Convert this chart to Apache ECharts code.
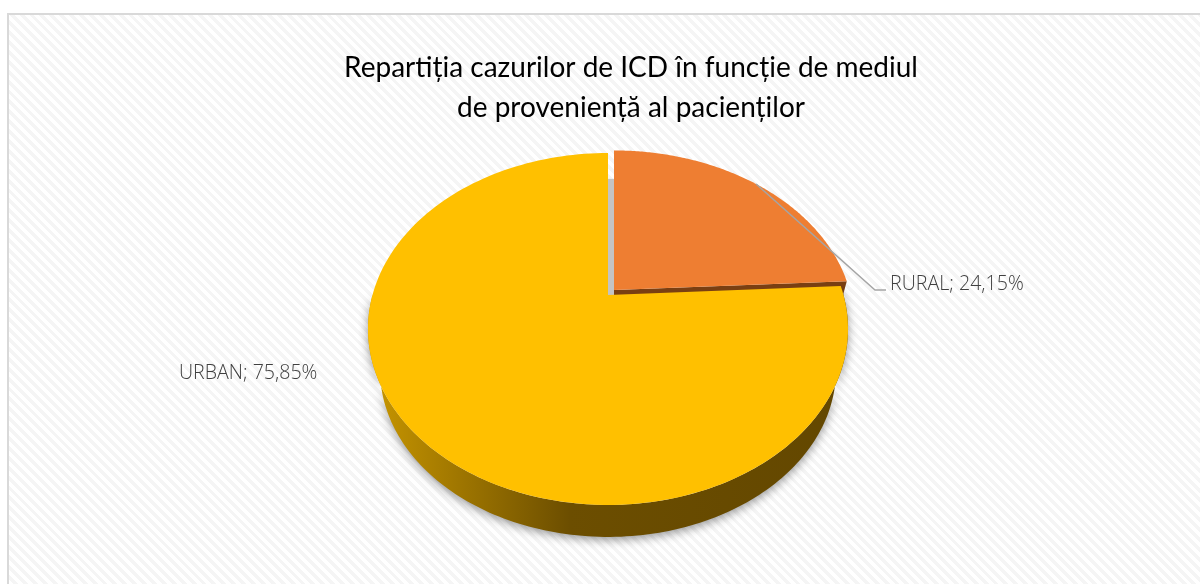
<!DOCTYPE html>
<html>
<head>
<meta charset="utf-8">
<title>Repartitia cazurilor</title>
<script src="https://cdn.jsdelivr.net/npm/echarts@6/dist/echarts.min.js"></script>
<style>
html, body { margin: 0; padding: 0; background: #fff; overflow: hidden; }
#card {
  position: absolute; left: 7px; top: 13px; width: 1193px; height: 571px;
  box-sizing: border-box; border-left: 2px solid #d9d9d9; border-top: 2px solid #d9d9d9;
  background: repeating-linear-gradient(45deg, #ffffff 0, #ffffff 3.5px, #f5f5f5 3.5px, #f5f5f5 7px);
}
#main { position: absolute; left: 0; top: 0; width: 1200px; height: 584px; }
</style>
</head>
<body>
<div id="card"></div>
<div id="main"></div>
<script>
const titleLines = ["Repartiția cazurilor de ICD în funcție de mediul", "de proveniență al pacienților"];
const categories = ["RURAL", "URBAN"];
const percents = [24.15, 75.85];
const percentLabels = ["24,15%", "75,85%"];

const colors = ["#ee7e32", "#ffc000"];
const wallColors = ["#7a3f12", null];

// pie look: perspective of the tilted disc
const apex = [[614, 290], [608, 295]];
const radiusX = 235.5, radiusYs = [166.5, 169.4], persp = 0.193;
const wallScale = 0.95, wallDrop = 42.5;

// frac = share of the full turn, clockwise from 12 o'clock
function rim(slice, frac, r, low) {
  const a = frac * Math.PI * 2;
  const u = Math.sin(a) * r, v = Math.cos(a) * r;
  const s = 1 / (1 + persp * v) * (low ? wallScale : 1);
  return [apex[slice][0] + radiusX * u * s, apex[slice][1] - radiusYs[slice] * v * s + (low ? wallDrop : 0)];
}
function arc(slice, from, to, low) {
  const pts = [], n = 160;
  for (let i = 0; i <= n; i++) pts.push(rim(slice, from + (to - from) * i / n, 1, low));
  return pts;
}

function renderSlice(params, api) {
  const i = params.dataIndex;
  let from = 0;
  for (let k = 0; k < i; k++) from += percents[k] / 100;
  const to = from + api.value(0) / 100;
  const mid = (from + to) / 2;
  const children = [];

  if (i === 0) {
    // cut face of the pulled out slice, the rest is hidden by the big slice
    children.push({
      type: "polygon",
      shape: { points: [rim(0, to, 0), rim(0, to, 1), rim(0, to, 1, true), rim(0, to, 0, true)] },
      style: { fill: wallColors[0] }
    });
    // shadow in the gap between the slices
    const low = rim(1, 0, 0), high = rim(1, 0, 0.79);
    children.push({
      type: "polygon",
      shape: { points: [low, [apex[0][0], low[1]], [apex[0][0], high[1]], high] },
      style: { fill: "#c4c4c4" }
    });
  } else {
    const front = arc(1, from, 0.75, false);
    const back = arc(1, from, 0.75, true).reverse();
    children.push({
      type: "polygon",
      shape: { points: front.concat(back) },
      style: {
        fill: {
          type: "linear", x: 0, y: 0, x2: 1, y2: 0,
          colorStops: [
            { offset: 0, color: "#c99700" },
            { offset: 0.42, color: "#6c4e00" },
            { offset: 1, color: "#634700" }
          ]
        },
        shadowBlur: 10, shadowColor: "rgba(0,0,0,0.4)", shadowOffsetY: 3
      }
    });
  }

  children.push({
    type: "polygon",
    shape: { points: [rim(i, 0, 0)].concat(arc(i, from, to, false)) },
    style: { fill: colors[i] }
  });

  if (i === 0) {
    children.push({
      type: "polyline",
      shape: { points: [rim(0, mid, 1), [875, 290], [886, 290]] },
      style: { fill: null, stroke: "#a5a5a5", lineWidth: 1.5 }
    });
  }
  children.push({
    type: "text",
    style: {
      text: categories[i] + "; " + percentLabels[i],
      x: i === 0 ? 890 : 179, y: i === 0 ? 284 : 373,
      verticalAlign: "middle", align: "left",
      font: "300 19.6px 'Open Sans'", fill: "#404040"
    }
  });
  return { type: "group", children: children };
}

const chart = echarts.init(document.getElementById("main"));
chart.setOption({
  animation: false,
  title: {
    text: titleLines.join("\n"),
    left: 626, top: 43, textAlign: "center",
    textStyle: { fontFamily: "Lato", fontWeight: 400, fontSize: 28, lineHeight: 40, color: "#000" }
  },
  series: [{
    type: "custom",
    coordinateSystem: "none",
    silent: true,
    renderItem: renderSlice,
    data: percents.map(p => [p])
  }]
});
</script>
</body>
</html>
